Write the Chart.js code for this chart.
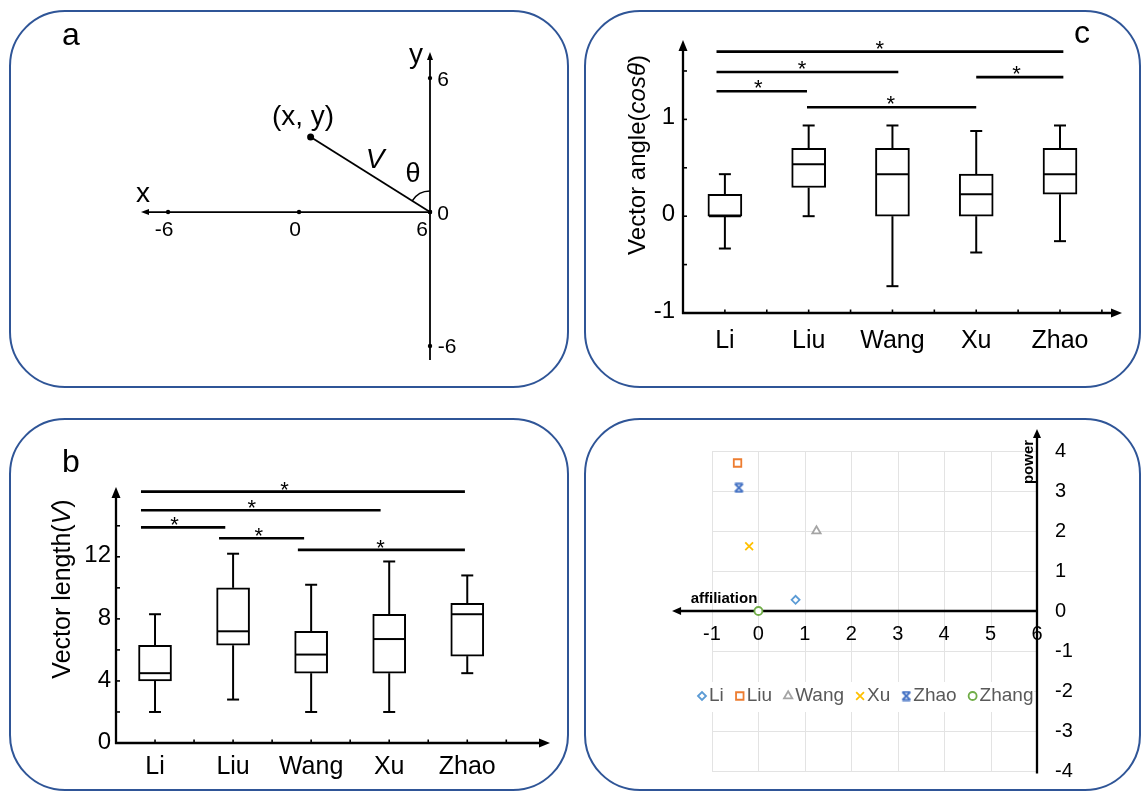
<!DOCTYPE html>
<html>
<head>
<meta charset="utf-8">
<script src="https://cdn.jsdelivr.net/npm/chart.js@4.4.1/dist/chart.umd.min.js"></script>
<style>
html,body{margin:0;padding:0;background:#fff;}
body{width:1143px;height:792px;position:relative;overflow:hidden;}
.panel{position:absolute;box-sizing:border-box;border:2.5px solid #2F5597;border-radius:56px;}
canvas{position:absolute;left:0;top:0;}
</style>
</head>
<body>
<div class="panel" style="left:9px;top:10px;width:560px;height:378px"></div>
<div class="panel" style="left:584px;top:10px;width:557px;height:378px"></div>
<div class="panel" style="left:9px;top:418px;width:560px;height:373px"></div>
<div class="panel" style="left:584px;top:418px;width:557px;height:373px"></div>
<canvas id="chartA" width="1143" height="792"></canvas>
<canvas id="chartB" width="1143" height="792"></canvas>
<canvas id="chartC" width="1143" height="792"></canvas>
<canvas id="chartD" width="1143" height="792"></canvas>
<script>
// ---------------- DATA ----------------
const categories = ['Li', 'Liu', 'Wang', 'Xu', 'Zhao'];
const catTicks = [1, 1.5, 2, 2.5, 3, 3.5, 4, 4.5, 5, 5.5];

// panel b : vector length
const lenMin = [2.0, 2.8, 2.0, 2.0, 4.5];
const lenQ1  = [4.0, 6.3, 4.5, 4.5, 5.6];
const lenMed = [4.5, 7.2, 5.7, 6.7, 8.3];
const lenQ3  = [6.3, 10.0, 7.2, 8.3, 9.0];
const lenMax = [8.3, 12.2, 10.2, 11.7, 10.8];
const lenTicks = [0, 2, 4, 6, 8, 10, 12, 14];
const lenTickLabels = ['0', '', '4', '', '8', '', '12', ''];
const lenSigFrom  = [0.82, 0.82, 0.82, 1.82, 2.83];
const lenSigTo    = [4.97, 3.89, 1.90, 2.91, 4.97];
const lenSigY     = [16.2, 15.0, 13.9, 13.2, 12.45];
const lenSigStarX = [2.66, 2.24, 1.25, 2.33, 3.89];

// panel c : vector angle (cos theta)
const angMin = [-0.334, 0.0, -0.723, -0.375, -0.258];
const angQ1  = [0.0, 0.296, 0.0, 0.0, 0.227];
const angMed = [0.0, 0.537, 0.434, 0.227, 0.434];
const angQ3  = [0.227, 0.70, 0.70, 0.434, 0.70];
const angMax = [0.434, 0.937, 0.937, 0.88, 0.937];
const angTicks = [-1, -0.5, 0, 0.5, 1, 1.5];
const angTickLabels = ['-1', '', '0', '', '1', ''];
const angSigFrom  = [0.9, 0.9, 0.9, 1.98, 4.0];
const angSigTo    = [5.04, 3.07, 1.98, 4.0, 5.04];
const angSigY     = [1.70, 1.49, 1.29, 1.126, 1.436];
const angSigStarX = [2.85, 1.92, 1.40, 2.98, 4.48];

// panel a : vector diagram
const vecX = [0.53, 6];
const vecY = [3.36, 0];
const axisXTickVals = [-6, 0, 6];
const axisXTickLabels = ['-6', '0', '6'];
const axisYTickVals = [6, 0, -6];
const axisYTickLabels = ['6', '0', '-6'];

// panel d : affiliation / power scatter
const people = ['Li', 'Liu', 'Wang', 'Xu', 'Zhao', 'Zhang'];
const affiliation = [0.8, -0.45, 1.25, -0.2, -0.42, 0.0];
const power = [0.28, 3.7, 2.0, 1.62, 3.08, 0.0];
const gridXTicks = [-1, 0, 1, 2, 3, 4, 5, 6];
const gridYTicks = [4, 3, 2, 1, 0, -1, -2, -3, -4];

// ---------------- STYLE ----------------
const FONT = '"Liberation Sans", Arial, Helvetica, sans-serif';
const W = 1143, H = 792;
const markerColors = ['#5B9BD5', '#ED7D31', '#A5A5A5', '#FFC000', '#4472C4', '#70AD47'];
const markerRadius = [4, 5.3, 4.8, 5.5, 5, 4];

function txt(ctx, s, x, y, size, o) {
  o = o || {};
  ctx.save();
  ctx.font = (o.style || '') + ' ' + (o.weight || '') + ' ' + size + 'px ' + FONT;
  ctx.fillStyle = o.color || '#000';
  ctx.textAlign = o.align || 'center';
  ctx.textBaseline = o.baseline || 'alphabetic';
  if (o.rotate) { ctx.translate(x, y); ctx.rotate(o.rotate); ctx.fillText(s, 0, 0); }
  else ctx.fillText(s, x, y);
  ctx.restore();
}
function arrow(ctx, x, y, dir, len, half) {
  ctx.beginPath();
  if (dir === 'up') { ctx.moveTo(x, y); ctx.lineTo(x - half, y + len); ctx.lineTo(x + half, y + len); }
  else if (dir === 'left') { ctx.moveTo(x, y); ctx.lineTo(x + len, y - half); ctx.lineTo(x + len, y + half); }
  else { ctx.moveTo(x, y); ctx.lineTo(x - len, y - half); ctx.lineTo(x - len, y + half); }
  ctx.closePath(); ctx.fill();
}
function richRotated(ctx, parts, cx, cy, size) {
  ctx.save();
  ctx.translate(cx, cy); ctx.rotate(-Math.PI / 2);
  ctx.textBaseline = 'middle'; ctx.textAlign = 'left'; ctx.fillStyle = '#000';
  const widths = parts.map(p => { ctx.font = (p[1] ? 'italic ' : '') + size + 'px ' + FONT; return ctx.measureText(p[0]).width; });
  let x = -widths.reduce((a, b) => a + b, 0) / 2;
  parts.forEach((p, i) => { ctx.font = (p[1] ? 'italic ' : '') + size + 'px ' + FONT; ctx.fillText(p[0], x, 0); x += widths[i]; });
  ctx.restore();
}
function pad(a) { return { left: a.l, top: a.t, right: W - a.r, bottom: H - a.b }; }
const baseOpts = { responsive: false, animation: false, devicePixelRatio: 1, events: [] };

// ---------------- BOX PANELS ----------------
function makeBoxPanel(o) {
  const plugin = {
    id: 'box' + o.id,
    beforeDatasetsDraw(chart) {
      const { ctx, scales: { x, y } } = chart;
      ctx.save(); ctx.strokeStyle = '#000'; ctx.lineWidth = 2;
      categories.forEach((c, i) => {
        const px = x.getPixelForValue(i + 1);
        [[o.min[i], o.q1[i]], [o.q3[i], o.max[i]]].forEach(([a, b]) => {
          ctx.beginPath(); ctx.moveTo(px, y.getPixelForValue(a)); ctx.lineTo(px, y.getPixelForValue(b)); ctx.stroke();
        });
        [o.min[i], o.max[i]].forEach(v => {
          const py = y.getPixelForValue(v);
          ctx.beginPath(); ctx.moveTo(px - 6, py); ctx.lineTo(px + 6, py); ctx.stroke();
        });
      });
      ctx.restore();
    },
    afterDatasetsDraw(chart) {
      const { ctx, scales: { x, y } } = chart;
      ctx.save(); ctx.strokeStyle = '#000'; ctx.fillStyle = '#000';
      // medians
      ctx.lineWidth = 2;
      o.med.forEach((m, i) => {
        const px = x.getPixelForValue(i + 1), py = y.getPixelForValue(m);
        ctx.beginPath(); ctx.moveTo(px - o.barW / 2 + 1, py); ctx.lineTo(px + o.barW / 2 - 1, py); ctx.stroke();
      });
      // axes
      const x0 = x.getPixelForValue(o.xMin), xE = x.getPixelForValue(o.xMax);
      const y0 = y.getPixelForValue(o.yMin), yE = y.getPixelForValue(o.yMax);
      ctx.lineWidth = 2.3;
      ctx.beginPath(); ctx.moveTo(x0 - 1, y0); ctx.lineTo(xE - 6, y0); ctx.stroke();
      ctx.beginPath(); ctx.moveTo(x0, y0 + 1); ctx.lineTo(x0, yE + 6); ctx.stroke();
      arrow(ctx, xE, y0, 'right', 11, 4.5);
      arrow(ctx, x0, yE, 'up', 11, 4.5);
      // ticks
      ctx.lineWidth = 1.6;
      o.yTicks.forEach((v, i) => {
        const py = y.getPixelForValue(v);
        ctx.beginPath(); ctx.moveTo(x0, py); ctx.lineTo(x0 + 4, py); ctx.stroke();
        if (o.yLabels[i]) txt(ctx, o.yLabels[i], x0 - o.labelGap, py - o.labelDy, o.tickSize, { align: 'right', baseline: 'middle' });
      });
      catTicks.forEach(v => {
        const px = x.getPixelForValue(v);
        ctx.beginPath(); ctx.moveTo(px, y0); ctx.lineTo(px, y0 - 3.5); ctx.stroke();
      });
      categories.forEach((c, i) => txt(ctx, c, x.getPixelForValue(i + 1), o.catY, o.catSize, { baseline: 'middle' }));
      // significance bars
      ctx.lineWidth = 2.6;
      o.sigFrom.forEach((f, i) => {
        const py = y.getPixelForValue(o.sigY[i]);
        ctx.beginPath(); ctx.moveTo(x.getPixelForValue(f), py); ctx.lineTo(x.getPixelForValue(o.sigTo[i]), py); ctx.stroke();
        txt(ctx, '*', x.getPixelForValue(o.starX[i]), py + o.starDy, 22);
      });
      richRotated(ctx, o.title, o.titleX, o.titleY, o.titleSize);
      txt(ctx, o.letter, o.letterX, o.letterY, 32);
      ctx.restore();
    }
  };
  new Chart(document.getElementById(o.id), {
    type: 'bar',
    data: {
      datasets: [{
        data: categories.map((c, i) => ({ x: i + 1, y: [o.q1[i], o.q3[i]] })),
        backgroundColor: '#fff', borderColor: '#000', borderWidth: 2,
        borderSkipped: false, barThickness: o.barW
      }]
    },
    options: Object.assign({}, baseOpts, {
      layout: { padding: pad(o.area) },
      scales: {
        x: { type: 'linear', display: false, offset: false, min: o.xMin, max: o.xMax },
        y: { type: 'linear', display: false, min: o.yMin, max: o.yMax }
      },
      plugins: { legend: { display: false }, tooltip: { enabled: false } }
    }),
    plugins: [plugin]
  });
}

makeBoxPanel({
  id: 'chartB', area: { l: 116, t: 487, r: 550, b: 743 },
  xMin: 0.5, xMax: 6.06, yMin: 0, yMax: 16.5,
  min: lenMin, q1: lenQ1, med: lenMed, q3: lenQ3, max: lenMax, barW: 33,
  yTicks: lenTicks, yLabels: lenTickLabels, labelGap: 5, labelDy: 1, tickSize: 24,
  catY: 767, catSize: 25,
  sigFrom: lenSigFrom, sigTo: lenSigTo, sigY: lenSigY, starX: lenSigStarX, starDy: 5,
  title: [['Vector length(', false], ['V', true], [')', false]], titleX: 63, titleY: 589, titleSize: 25,
  letter: 'b', letterX: 71, letterY: 472
});

makeBoxPanel({
  id: 'chartC', area: { l: 683, t: 40, r: 1122, b: 313 },
  xMin: 0.5, xMax: 5.74, yMin: -1, yMax: 1.82,
  min: angMin, q1: angQ1, med: angMed, q3: angQ3, max: angMax, barW: 34,
  yTicks: angTicks, yLabels: angTickLabels, labelGap: 8, labelDy: 2, tickSize: 24,
  catY: 341, catSize: 25,
  sigFrom: angSigFrom, sigTo: angSigTo, sigY: angSigY, starX: angSigStarX, starDy: 4,
  title: [['Vector angle(', false], ['cos\u03B8', true], [')', false]], titleX: 638, titleY: 155, titleSize: 24,
  letter: 'c', letterX: 1082, letterY: 43
});

// ---------------- PANEL A ----------------
const pluginA = {
  id: 'diagA',
  beforeDatasetsDraw(chart) {
    const { ctx, scales: { x, y } } = chart;
    const ox = x.getPixelForValue(6), oy = y.getPixelForValue(0);
    ctx.save(); ctx.strokeStyle = '#000'; ctx.fillStyle = '#000'; ctx.lineWidth = 1.8;
    const xl = x.getPixelForValue(x.min), yt = y.getPixelForValue(y.max), yb = y.getPixelForValue(y.min);
    ctx.beginPath(); ctx.moveTo(ox, oy); ctx.lineTo(xl + 5, oy); ctx.stroke();
    arrow(ctx, xl, oy, 'left', 8, 3);
    ctx.beginPath(); ctx.moveTo(ox, yb); ctx.lineTo(ox, yt + 5); ctx.stroke();
    arrow(ctx, ox, yt, 'up', 8, 3);
    // angle arc
    const px = x.getPixelForValue(vecX[0]), py = y.getPixelForValue(vecY[0]);
    const ang = Math.atan2(py - oy, px - ox);
    ctx.lineWidth = 1.5;
    ctx.beginPath(); ctx.arc(ox, oy, 21, ang, -Math.PI / 2); ctx.stroke();
    ctx.restore();
  },
  afterDatasetsDraw(chart) {
    const { ctx, scales: { x, y } } = chart;
    const ox = x.getPixelForValue(6), oy = y.getPixelForValue(0);
    axisXTickVals.forEach((v, i) => {
      const dx = v === 6 ? -8 : -4;
      txt(ctx, axisXTickLabels[i], x.getPixelForValue(v) + dx, oy + 23.5, 21);
    });
    axisYTickVals.forEach((v, i) => {
      txt(ctx, axisYTickLabels[i], ox + 13 + (v < 0 ? 4 : 0), y.getPixelForValue(v) + 7.5, 21);
    });
    txt(ctx, 'x', 143, 202, 28);
    txt(ctx, 'y', 416, 63, 28);
    txt(ctx, '(x, y)', 303, 125, 28);
    txt(ctx, 'V', 375, 168, 28, { style: 'italic' });
    txt(ctx, '\u03B8', 413, 182, 27);
    txt(ctx, 'a', 71, 45, 32);
  }
};
new Chart(document.getElementById('chartA'), {
  type: 'scatter',
  data: {
    datasets: [
      {
        type: 'line', data: vecX.map((v, i) => ({ x: v, y: vecY[i] })),
        borderColor: '#000', borderWidth: 1.8, pointRadius: [3.5, 0],
        pointBackgroundColor: '#000', pointBorderWidth: 0, clip: false
      },
      {
        type: 'scatter',
        data: axisXTickVals.map(v => ({ x: v, y: 0 })).concat(axisYTickVals.map(v => ({ x: 6, y: v }))),
        pointRadius: 2.2, backgroundColor: '#000', borderWidth: 0, clip: false
      }
    ]
  },
  options: Object.assign({}, baseOpts, {
    layout: { padding: pad({ l: 141, t: 52, r: 430, b: 360 }) },
    scales: {
      x: { type: 'linear', display: false, min: -7.24, max: 6 },
      y: { type: 'linear', display: false, min: -6.63, max: 7.17 }
    },
    plugins: { legend: { display: false }, tooltip: { enabled: false } }
  }),
  plugins: [pluginA]
});

// ---------------- PANEL D ----------------
const zhaoMarker = (() => {
  const c = document.createElement('canvas'); c.width = 11; c.height = 11;
  const g = c.getContext('2d'); g.strokeStyle = markerColors[4]; g.lineWidth = 1.8;
  g.beginPath();
  g.moveTo(1.5, 1.5); g.lineTo(9.5, 9.5); g.moveTo(9.5, 1.5); g.lineTo(1.5, 9.5);
  g.moveTo(1.5, 1.5); g.lineTo(9.5, 1.5); g.moveTo(1.5, 9.5); g.lineTo(9.5, 9.5);
  g.stroke();
  return c;
})();
const markerStyles = ['rectRot', 'rect', 'triangle', 'crossRot', zhaoMarker, 'circle'];

function legendPoint(ctx, style, r, x, y, color) {
  ctx.save();
  ctx.strokeStyle = color; ctx.fillStyle = '#fff'; ctx.lineWidth = 1.8;
  if (Chart.helpers && Chart.helpers.drawPoint) {
    Chart.helpers.drawPoint(ctx, { pointStyle: style, radius: r, borderWidth: 1.8, rotation: 0 }, x, y);
  } else if (style instanceof HTMLCanvasElement) {
    ctx.drawImage(style, x - style.width / 2, y - style.height / 2);
  }
  ctx.restore();
}

const pluginD = {
  id: 'gridD',
  beforeDatasetsDraw(chart) {
    const { ctx, scales: { x, y } } = chart;
    ctx.save();
    ctx.strokeStyle = '#E3E3E3'; ctx.lineWidth = 1;
    const gl = x.getPixelForValue(gridXTicks[0]), gr = x.getPixelForValue(gridXTicks[gridXTicks.length - 1]);
    const gt = y.getPixelForValue(gridYTicks[0]), gb = y.getPixelForValue(gridYTicks[gridYTicks.length - 1]);
    gridXTicks.forEach(v => { const p = Math.round(x.getPixelForValue(v)) + 0.5; ctx.beginPath(); ctx.moveTo(p, gt); ctx.lineTo(p, gb); ctx.stroke(); });
    gridYTicks.forEach(v => { const p = Math.round(y.getPixelForValue(v)) + 0.5; ctx.beginPath(); ctx.moveTo(gl, p); ctx.lineTo(gr, p); ctx.stroke(); });
    // legend box
    ctx.fillStyle = '#fff';
    ctx.fillRect(691, 682, 343, 30);
    ctx.font = '19px ' + FONT;
    let lx = 702;
    const ly = 696;
    people.forEach((p, i) => {
      legendPoint(ctx, markerStyles[i], markerRadius[i], lx, ly, markerColors[i]);
      txt(ctx, p, lx + 7, ly, 19, { align: 'left', baseline: 'middle', color: '#595959' });
      ctx.font = '19px ' + FONT;
      lx += 7 + ctx.measureText(p).width + 16;
    });
    // axes
    ctx.strokeStyle = '#000'; ctx.fillStyle = '#000'; ctx.lineWidth = 2.3;
    const ax = x.getPixelForValue(6), ay = y.getPixelForValue(0);
    const xTip = x.getPixelForValue(-1.86), yTip = y.getPixelForValue(4.55), yBot = y.getPixelForValue(-4.06);
    ctx.beginPath(); ctx.moveTo(ax, ay); ctx.lineTo(xTip + 6, ay); ctx.stroke();
    arrow(ctx, xTip, ay, 'left', 9, 4);
    ctx.beginPath(); ctx.moveTo(ax, yBot); ctx.lineTo(ax, yTip + 6); ctx.stroke();
    arrow(ctx, ax, yTip, 'up', 9, 4);
    ctx.restore();
  },
  afterDatasetsDraw(chart) {
    const { ctx, scales: { x, y } } = chart;
    gridXTicks.forEach(v => txt(ctx, String(v), x.getPixelForValue(v), 634, 20, { baseline: 'middle' }));
    gridYTicks.forEach(v => txt(ctx, String(v), 1055, y.getPixelForValue(v), 20, { align: 'left', baseline: 'middle' }));
    txt(ctx, 'affiliation', 724, 603, 15, { weight: 'bold' });
    txt(ctx, 'power', 1029, 462, 15, { weight: 'bold', baseline: 'middle', rotate: -Math.PI / 2 });
  }
};
new Chart(document.getElementById('chartD'), {
  type: 'scatter',
  data: {
    datasets: people.map((p, i) => ({
      label: p,
      data: [{ x: affiliation[i], y: power[i] }],
      pointStyle: markerStyles[i],
      pointRadius: markerRadius[i],
      borderColor: markerColors[i],
      backgroundColor: '#fff',
      borderWidth: 1.8,
      clip: false
    }))
  },
  options: Object.assign({}, baseOpts, {
    layout: { padding: pad({ l: 712, t: 451, r: 1037, b: 771 }) },
    scales: {
      x: { type: 'linear', display: false, min: -1, max: 6 },
      y: { type: 'linear', display: false, min: -4, max: 4 }
    },
    plugins: { legend: { display: false }, tooltip: { enabled: false } }
  }),
  plugins: [pluginD]
});
</script>
</body>
</html>
